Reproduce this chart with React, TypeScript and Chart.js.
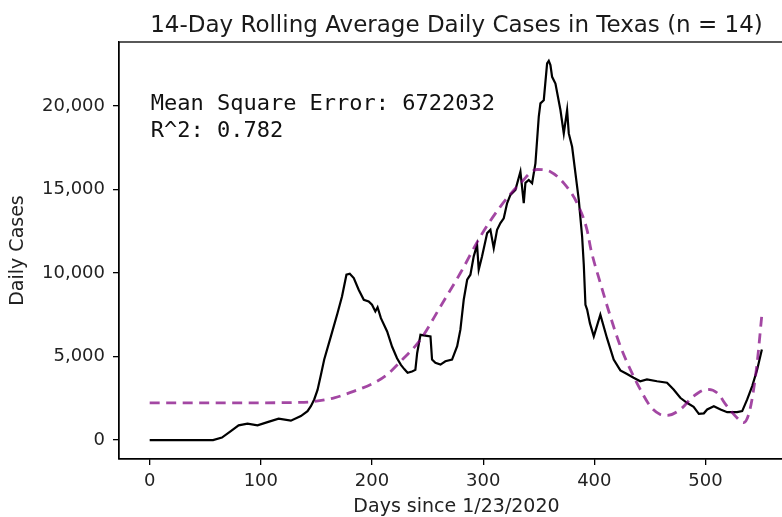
import React, { useEffect, useRef } from "react";
import { Chart, registerables } from "chart.js";

Chart.register(...registerables);

// ---- data ----
const caseDays = [
  0, 57, 65, 73, 80, 88, 97, 106, 116, 127, 136, 142, 145, 148, 151, 154, 157, 163, 169, 173,
  177, 180, 183.6, 188, 192.6, 197, 200, 203, 205, 208, 213.6, 218, 222.5, 226, 229, 232, 236,
  239, 240.6, 243.6, 248, 252.6, 254, 257, 261.6, 266, 272, 276.6, 279.5, 282.5, 285.6, 288.5,
  291.5, 294.5, 296, 299, 303.6, 306.5, 309.5, 312.5, 315.5, 318.5, 321.5, 324.5, 329, 333.5,
  336.5, 338, 341, 344, 347, 350, 351.5, 354.5, 357.5, 359, 360.5, 362, 365, 369.5, 372.5,
  375.5, 377, 380, 383, 386, 389, 390.5, 392, 393.5, 396, 399.5, 405.4, 411.4, 417.4, 423.4,
  429.4, 435.3, 441.3, 447.3, 456.4, 465.4, 471.3, 477.3, 483.3, 489.3, 494, 498.5, 501.5,
  507.5, 513.5, 519.5, 528.4, 533, 537.5, 542, 546.5, 550.7,
];
const caseValues = [
  0, 0, 150, 540, 880, 980, 880, 1075, 1280, 1160, 1435, 1730, 2030, 2430, 3000, 3900, 4820,
  6210, 7610, 8600, 9900, 9960, 9700, 9000, 8400, 8300, 8100, 7700, 7950, 7300, 6500, 5600,
  4900, 4500, 4250, 4030, 4100, 4200, 5200, 6300, 6250, 6200, 4820, 4620, 4520, 4720, 4820,
  5620, 6610, 8400, 9600, 9900, 11000, 11690, 10200, 11000, 12390, 12590, 11490, 12590, 12990,
  13280, 14180, 14680, 14980, 16070, 14180, 15400, 15570, 15380, 16570, 19360, 20160, 20350,
  22550, 22700, 22450, 21750, 21350, 19760, 18360, 19760, 18360, 17560, 15970, 14380, 12190,
  10500, 8100, 7810, 7000, 6210, 7510, 6100, 4820, 4170, 3950, 3730, 3520, 3630, 3520, 3430,
  3030, 2530, 2230, 1990, 1570, 1600, 1830, 2030, 1830, 1670, 1670, 1730, 2430, 3230, 4220,
  5420,
];

const fitDays = [
  0, 50, 100, 130, 145, 166, 184, 202, 213.6, 225.6, 243.6, 261.6, 279.5, 297.5, 315.5, 333.5,
  348.5, 360.5, 372.5, 384.5, 393.4, 397, 405.4, 414.4, 423.4, 432.4, 441.3, 450.3, 459.3,
  465.4, 477.3, 489.3, 501.3, 510.3, 519.3, 528.3, 534.2, 540, 546.1, 550.7,
];
const fitValues = [
  2230, 2230, 2230, 2250, 2290, 2530, 2930, 3430, 3920, 4700, 6020, 8000, 10000, 12190, 13980,
  15380, 16200, 16070, 15380, 14180, 12590, 11390, 9400, 7410, 5620, 4220, 3030, 2030, 1535,
  1475, 1830, 2630, 3030, 2830, 2030, 1340, 1040, 1830, 4420, 7510,
];

const xTicks = [0, 100, 200, 300, 400, 500];
const yTicks = [0, 5000, 10000, 15000, 20000];

const titleText = "14-Day Rolling Average Daily Cases in Texas (n = 14)";
const annotationLines = ["Mean Square Error: 6722032", "R^2: 0.782"];
const xLabel = "Days since 1/23/2020";
const yLabel = "Daily Cases";

const X_MIN = -27.6;
const X_MAX = 579.6;
const Y_MIN = -1135;
const Y_MAX = 23835;

const FONT = '"DejaVu Sans", sans-serif';
const MONO = '"DejaVu Sans Mono", monospace';

export default function App() {
  const ref = useRef<HTMLCanvasElement | null>(null);

  useEffect(() => {
    const canvas = ref.current;
    if (!canvas) return;

    const framePlugin = {
      id: "frameAndText",
      afterDraw(chart: any) {
        const { ctx, chartArea: a } = chart;
        ctx.save();
        ctx.strokeStyle = "#000";
        ctx.lineWidth = 1.3;
        ctx.strokeRect(a.left, a.top, a.right - a.left, a.bottom - a.top);

        ctx.fillStyle = "#1a1a1a";
        ctx.font = `23px ${FONT}`;
        ctx.textAlign = "center";
        ctx.textBaseline = "alphabetic";
        ctx.fillText(titleText, (a.left + a.right) / 2, 31.5);

        ctx.fillStyle = "#111";
        ctx.font = `22px ${MONO}`;
        ctx.textAlign = "left";
        const x0 = chart.scales.x.getPixelForValue(0) + 1;
        ctx.fillText(annotationLines[0], x0, 110);
        ctx.fillText(annotationLines[1], x0, 137);
        ctx.restore();
      },
    };

    const chart = new Chart(canvas, {
      type: "line",
      data: {
        datasets: [
          {
            label: "cases",
            data: caseDays.map((d, i) => ({ x: d, y: caseValues[i] })),
            borderColor: "#000",
            borderWidth: 2.2,
            pointRadius: 0,
            tension: 0,
            fill: false,
            order: 2,
          },
          {
            label: "fit",
            data: fitDays.map((d, i) => ({ x: d, y: fitValues[i] })),
            borderColor: "rgba(128,0,128,0.72)",
            borderWidth: 2.8,
            borderDash: [10, 6.5],
            pointRadius: 0,
            cubicInterpolationMode: "monotone",
            fill: false,
            order: 1,
          },
        ],
      },
      options: {
        animation: false,
        responsive: false,
        devicePixelRatio: 1,
        layout: { padding: { left: 0, top: 42, right: 6, bottom: 0 } },
        plugins: {
          legend: { display: false },
          tooltip: { enabled: false },
          title: { display: false },
        },
        scales: {
          x: {
            type: "linear",
            min: X_MIN,
            max: X_MAX,
            afterBuildTicks: (scale: any) => {
              scale.ticks = xTicks.map((v) => ({ value: v }));
            },
            afterFit: (scale: any) => {
              scale.height = 58;
            },
            ticks: {
              color: "#222",
              font: { family: FONT, size: 18 },
              padding: 6,
              maxRotation: 0,
              autoSkip: false,
              callback: (v: any) => String(v),
            },
            grid: {
              drawOnChartArea: false,
              drawTicks: true,
              tickLength: 6,
              color: "#000",
              lineWidth: 1.3,
            },
            border: { display: true, color: "#000", width: 1.3 },
            title: {
              display: true,
              text: xLabel,
              color: "#222",
              font: { family: FONT, size: 19, lineHeight: 1 },
              padding: { top: 0, bottom: 0 },
            },
          },
          y: {
            type: "linear",
            min: Y_MIN,
            max: Y_MAX,
            afterBuildTicks: (scale: any) => {
              scale.ticks = yTicks.map((v) => ({ value: v }));
            },
            afterFit: (scale: any) => {
              scale.width = 119;
            },
            ticks: {
              color: "#222",
              font: { family: FONT, size: 18 },
              padding: 8,
              autoSkip: false,
              callback: (v: any) => Number(v).toLocaleString("en-US"),
            },
            grid: {
              drawOnChartArea: false,
              drawTicks: true,
              tickLength: 6,
              color: "#000",
              lineWidth: 1.3,
            },
            border: { display: true, color: "#000", width: 1.3 },
            title: {
              display: true,
              text: yLabel,
              color: "#222",
              font: { family: FONT, size: 19, lineHeight: 1.2 },
              padding: { top: 7, bottom: 0 },
            },
          },
        },
      },
      plugins: [framePlugin],
    } as any);

    return () => chart.destroy();
  }, []);

  return (
    <div
      style={{
        position: "fixed",
        left: 0,
        top: 0,
        width: 782,
        height: 517,
        overflow: "hidden",
        background: "#fff",
      }}
    >
      <canvas ref={ref} width={800} height={517} style={{ display: "block", width: 800, height: 517 }} />
    </div>
  );
}
